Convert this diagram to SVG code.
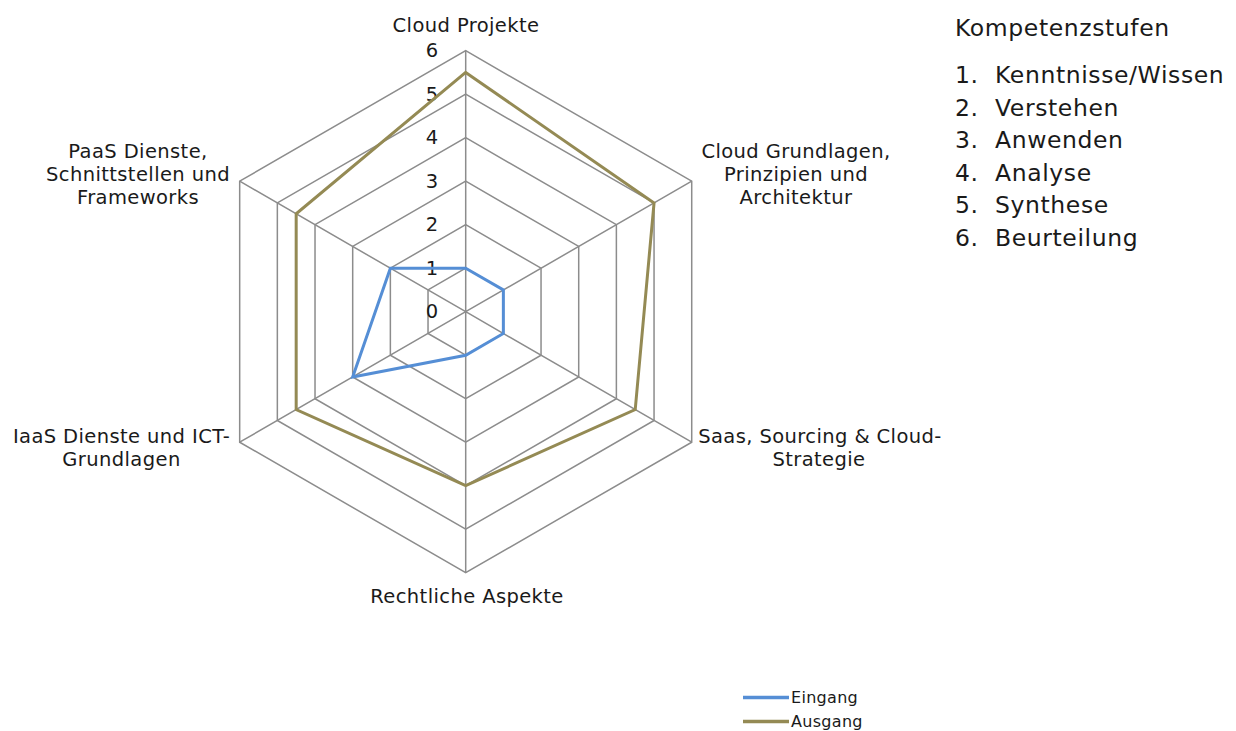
<svg xmlns="http://www.w3.org/2000/svg" width="1236" height="731" viewBox="0 0 1236 731">
<style>
.grid{fill:none;stroke:#8c8c8c;stroke-width:1.5}
.t{font-family:"DejaVu Sans","Liberation Sans",sans-serif;font-size:19.5px;letter-spacing:0.4px;fill:#1a1a1a}
.tick{font-family:"DejaVu Sans","Liberation Sans",sans-serif;font-size:19.5px;fill:#1a1a1a;text-anchor:middle}
.lab{text-anchor:middle}
.big{font-family:"DejaVu Sans","Liberation Sans",sans-serif;font-size:23.5px;letter-spacing:0.6px;fill:#1a1a1a}
.leg{font-family:"DejaVu Sans","Liberation Sans",sans-serif;font-size:16px;letter-spacing:0.3px;fill:#1a1a1a}
.s1{fill:none;stroke:#558ED5;stroke-width:3;stroke-linejoin:miter}
.s2{fill:none;stroke:#948A54;stroke-width:3;stroke-linejoin:miter}
</style>
<rect width="1236" height="731" fill="#ffffff"/>
<g id="grid" transform="translate(465.7,311.7)">
<polygon class="grid" points="0,-43.5 37.67,-21.75 37.67,21.75 0,43.5 -37.67,21.75 -37.67,-21.75"/>
<polygon class="grid" points="0,-87 75.34,-43.5 75.34,43.5 0,87 -75.34,43.5 -75.34,-43.5"/>
<polygon class="grid" points="0,-130.5 113.01,-65.25 113.01,65.25 0,130.5 -113.01,65.25 -113.01,-65.25"/>
<polygon class="grid" points="0,-174 150.68,-87 150.68,87 0,174 -150.68,87 -150.68,-87"/>
<polygon class="grid" points="0,-217.5 188.35,-108.75 188.35,108.75 0,217.5 -188.35,108.75 -188.35,-108.75"/>
<polygon class="grid" points="0,-261 226.02,-130.5 226.02,130.5 0,261 -226.02,130.5 -226.02,-130.5"/>
<path class="grid" d="M0,0V-261M0,0L226.02,-130.5M0,0L226.02,130.5M0,0V261M0,0L-226.02,130.5M0,0L-226.02,-130.5"/>
</g>
<g id="ticks">
<text class="tick" x="432" y="318">0</text>
<text class="tick" x="432" y="274.5">1</text>
<text class="tick" x="432" y="231">2</text>
<text class="tick" x="432" y="187.5">3</text>
<text class="tick" x="432" y="144">4</text>
<text class="tick" x="432" y="100.5">5</text>
<text class="tick" x="432" y="57">6</text>
</g>
<g id="series" transform="translate(465.7,311.7)">
<polygon id="eingang" class="s1" points="0,-43.5 37.67,-21.75 37.67,21.75 0,43.5 -113.01,65.25 -75.34,-43.5"/>
<polygon id="ausgang" class="s2" points="0,-239.25 188.35,-108.75 169.52,97.88 0,174 -169.52,97.88 -169.52,-97.88"/>
</g>
<g id="axis-cloud-projekte"><text class="t lab" x="466" y="32">Cloud Projekte</text></g>
<g id="axis-cloud-grundlagen"><text class="t lab" x="796" y="158">Cloud Grundlagen,</text><text class="t lab" x="796" y="181">Prinzipien und</text><text class="t lab" x="796" y="204">Architektur</text></g>
<g id="axis-saas"><text class="t lab" x="820" y="443">Saas, Sourcing &amp; Cloud-</text><text class="t lab" x="819" y="466">Strategie</text></g>
<g id="axis-recht"><text class="t lab" x="467" y="603">Rechtliche Aspekte</text></g>
<g id="axis-iaas"><text class="t lab" x="121.5" y="443">IaaS Dienste und ICT-</text><text class="t lab" x="121.5" y="466">Grundlagen</text></g>
<g id="axis-paas"><text class="t lab" x="138" y="158">PaaS Dienste,</text><text class="t lab" x="138" y="181">Schnittstellen und</text><text class="t lab" x="138" y="204">Frameworks</text></g>
<g id="kompetenzstufen">
<text class="big" x="955" y="36">Kompetenzstufen</text>
<text class="big" x="955" y="83">1.</text><text class="big" x="995" y="83">Kenntnisse/Wissen</text>
<text class="big" x="955" y="115.6">2.</text><text class="big" x="995" y="115.6">Verstehen</text>
<text class="big" x="955" y="148.2">3.</text><text class="big" x="995" y="148.2">Anwenden</text>
<text class="big" x="955" y="180.8">4.</text><text class="big" x="995" y="180.8">Analyse</text>
<text class="big" x="955" y="213.4">5.</text><text class="big" x="995" y="213.4">Synthese</text>
<text class="big" x="955" y="246">6.</text><text class="big" x="995" y="246">Beurteilung</text>
</g>
<g id="legend">
<line x1="743" y1="697.5" x2="789" y2="697.5" stroke="#558ED5" stroke-width="3.5"/>
<text class="leg" x="791" y="703">Eingang</text>
<line x1="743" y1="721.5" x2="789" y2="721.5" stroke="#948A54" stroke-width="3.5"/>
<text class="leg" x="791" y="727">Ausgang</text>
</g>
</svg>
